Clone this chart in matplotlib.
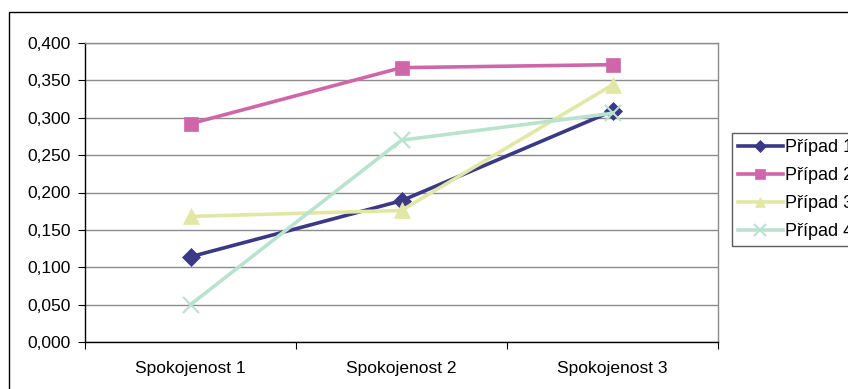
import matplotlib
matplotlib.use("Agg")
import matplotlib.pyplot as plt
from matplotlib.patches import Rectangle

plt.rcParams["font.family"] = ["Liberation Sans", "DejaVu Sans"]

categories = ["Spokojenost 1", "Spokojenost 2", "Spokojenost 3"]
series_names = ["Případ 1", "Případ 2", "Případ 3", "Případ 4"]
pripad1 = [0.114, 0.189, 0.309]
pripad2 = [0.292, 0.367, 0.371]
pripad3 = [0.168, 0.176, 0.344]
pripad4 = [0.050, 0.270, 0.306]
yticks = [0.0, 0.05, 0.10, 0.15, 0.20, 0.25, 0.30, 0.35, 0.40]

colors = ["#3b3886", "#cf66aa", "#e1e8a6", "#b9e3cf"]
markers = ["D", "s", "^", "x"]
msizes = [9, 10, 11, 12]

W, H = 848, 389
fig = plt.figure(figsize=(W / 100, H / 100), dpi=100)
fig.patch.set_facecolor("white")

# outer chart border (runs off the right/bottom of the image)
fig.patches.append(Rectangle((9 / W, -0.1), 1.0, 1 - 12 / H + 0.1,
                             transform=fig.transFigure, fill=False,
                             edgecolor="black", linewidth=1.0))

ax = fig.add_axes([85 / W, 1 - 342 / H, (718 - 85) / W, (342 - 43) / H])

x = range(len(categories))
for vals, name, c, m, ms in zip([pripad1, pripad2, pripad3, pripad4],
                                series_names, colors, markers, msizes):
    ax.plot(x, vals, color=c, linewidth=2.6, marker=m, markersize=ms,
            markeredgewidth=1.5 if m == "x" else 0.5, markeredgecolor=c,
            label=name, zorder=3, clip_on=False)

ax.set_xlim(-0.5, len(categories) - 0.5)
ax.set_ylim(0, 0.4)
ax.set_yticks(yticks)
ax.set_yticklabels([f"{v:.3f}".replace(".", ",") for v in yticks], fontsize=12.5)
ax.yaxis.grid(True, color="#8c8c8c", linewidth=1.0)
ax.set_axisbelow(True)

ax.set_xticks(list(x))
ax.set_xticklabels(categories, fontsize=12.5)
ax.tick_params(axis="x", length=0, pad=14)
ax.set_xticks([i - 0.5 for i in range(len(categories) + 1)], minor=True)
ax.tick_params(axis="x", which="minor", length=5, width=0.8, direction="out")
ax.tick_params(axis="y", length=5, width=0.8, direction="out", pad=5)

for s in ["left", "bottom"]:
    ax.spines[s].set_color("black")
    ax.spines[s].set_linewidth(1.0)
for s in ["top", "right"]:
    ax.spines[s].set_color("#8c8c8c")
    ax.spines[s].set_linewidth(1.0)

# legend runs off the right edge, as in the original screenshot
leg = fig.legend(loc="upper left", bbox_to_anchor=(732 / W, 1 - 133 / H),
                 fontsize=13, frameon=True, fancybox=False, handlelength=2.45,
                 borderpad=0.35, labelspacing=0.6, handletextpad=0.12,
                 borderaxespad=0, markerscale=0.7)
leg.get_frame().set_edgecolor("#333333")
leg.get_frame().set_linewidth(1.0)

fig.savefig("out.png", dpi=100)
